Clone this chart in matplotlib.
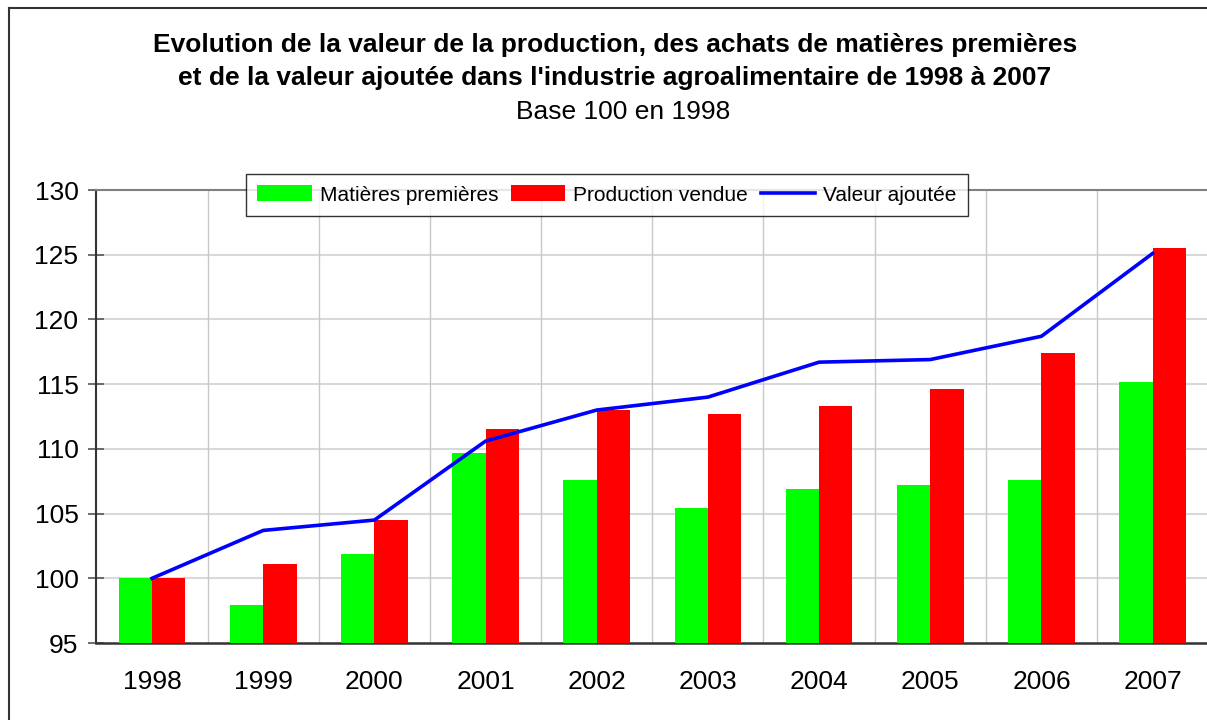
import numpy as np
import matplotlib
matplotlib.use("Agg")
import matplotlib.pyplot as plt
from matplotlib.lines import Line2D

# données (base 100 en 1998)
annees = ["1998", "1999", "2000", "2001", "2002", "2003", "2004", "2005", "2006", "2007"]
matieres_premieres = [100.0, 97.9, 101.9, 109.7, 107.6, 105.4, 106.9, 107.2, 107.6, 115.2]
production_vendue = [100.0, 101.1, 104.5, 111.5, 113.0, 112.7, 113.3, 114.6, 117.4, 125.5]
valeur_ajoutee = [100.0, 103.7, 104.5, 110.6, 113.0, 114.0, 116.7, 116.9, 118.7, 125.1]
y_ticks = [95, 100, 105, 110, 115, 120, 125, 130]

plt.rcParams['font.family'] = ['Liberation Sans', 'DejaVu Sans']

fig = plt.figure(figsize=(12.07, 7.2), dpi=100)
ax = fig.add_axes([0.0799, 0.1069, 0.9211, 0.6292])

x = np.arange(len(annees))
w = 0.3
b1 = ax.bar(x - w / 2, matieres_premieres, width=w, color="#00ff00", zorder=3, label="Matières premières")
b2 = ax.bar(x + w / 2, production_vendue, width=w, color="#ff0000", zorder=3, label="Production vendue")
l1, = ax.plot(x, valeur_ajoutee, color="#0000ff", lw=2.6, zorder=4, label="Valeur ajoutée")

ax.set_ylim(95, 130)
ax.set_xlim(-0.5, len(annees) - 0.5)
ax.set_yticks(y_ticks)
ax.set_xticks(x)
ax.set_xticklabels(annees)

# grille
for yv in y_ticks[1:-1]:
    ax.axhline(yv, color="#d9d9d9", lw=1.5, zorder=1)
for xv in x[:-1] + 0.5:
    ax.axvline(xv, color="#c8c8c8", lw=1.0, zorder=1)

ax.spines['top'].set_color("#808080")
ax.spines['top'].set_linewidth(1.5)
ax.spines['right'].set_visible(False)
ax.spines['left'].set_color("#333333")
ax.spines['left'].set_linewidth(1.5)
ax.spines['bottom'].set_color("#333333")
ax.spines['bottom'].set_linewidth(1.8)

ax.tick_params(axis='y', direction='inout', length=12, width=1.2, color="#555555",
               labelsize=19, pad=7)
ax.tick_params(axis='x', length=0, labelsize=19, pad=19.5)

leg = fig.legend([b1, b2, l1], ["Matières premières", "Production vendue", "Valeur ajoutée"],
                 loc='upper left', bbox_to_anchor=(0.2038, 0.7583), ncol=3,
                 fontsize=15, frameon=True, fancybox=False, edgecolor="black",
                 handlelength=2.6, handleheight=0.8, handletextpad=0.4,
                 columnspacing=0.6, borderpad=0.55, borderaxespad=0)
leg.get_frame().set_linewidth(1.0)

# titres
xc = 615 / 1207
fig.text(xc, 1 - 45 / 720, "Evolution de la valeur de la production, des achats de matières premières",
         ha='center', va='center', fontsize=19, fontweight='bold')
fig.text(xc, 1 - 78 / 720, "et de la valeur ajoutée dans l'industrie agroalimentaire de 1998 à 2007",
         ha='center', va='center', fontsize=19, fontweight='bold')
fig.text(623 / 1207, 1 - 112 / 720, "Base 100 en 1998", ha='center', va='center', fontsize=19)

# cadre extérieur
fig.add_artist(Line2D([9 / 1207, 9 / 1207], [0, 1 - 7.5 / 720], transform=fig.transFigure,
                      color="#333333", lw=1.5))
fig.add_artist(Line2D([9 / 1207, 1], [1 - 7.5 / 720, 1 - 7.5 / 720], transform=fig.transFigure,
                      color="#333333", lw=1.5))

fig.savefig("out.png", dpi=100)
